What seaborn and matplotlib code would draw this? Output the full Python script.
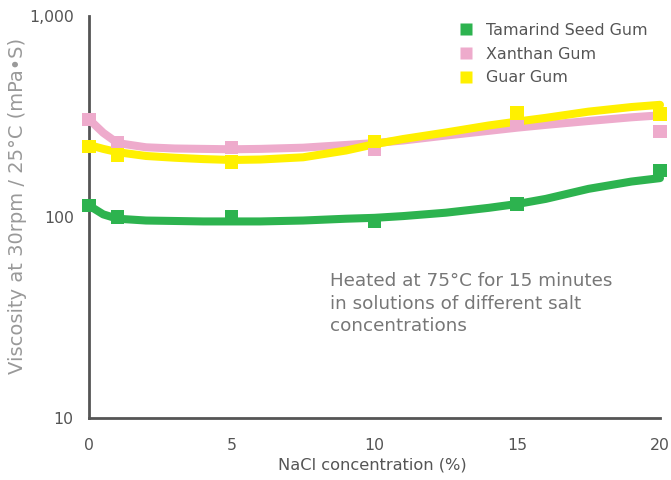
import matplotlib
matplotlib.use("Agg")
import matplotlib.pyplot as plt
import matplotlib.ticker as mticker
from matplotlib.lines import Line2D
import seaborn as sns
import pandas as pd

# measured points
nacl = [0, 1, 5, 10, 15, 20]
tamarind = [114, 100, 100, 95, 116, 170]
xanthan = [306, 233, 222, 218, 295, 266]
guar = [224, 203, 188, 237, 328, 325]

# trend curves
curve_x = [0, 0.5, 1, 2, 3, 4, 5, 6, 7.5, 9, 10, 11, 12.5, 14, 15, 16, 17.5, 19, 20]
tamarind_curve = [114, 103, 98, 96, 95.5, 95, 95, 95, 96, 98, 99, 101, 105, 111, 116, 123, 138, 150, 156]
xanthan_curve = [306, 262, 233, 222, 219, 218, 217, 218, 221, 228, 233, 240, 254, 268, 278, 287, 300, 313, 320]
guar_curve = [228, 218, 210, 201, 197, 194, 192, 193, 198, 214, 230, 244, 263, 285, 298, 311, 334, 352, 361]

series_names = ["Tamarind Seed Gum", "Xanthan Gum", "Guar Gum"]
colors = ["#2db34f", "#eeabcc", "#fff000"]

y_ticks = [10, 100, 1000]
x_ticks = [0, 5, 10, 15, 20]

sns.set_style("white")
plt.rcParams["font.family"] = ["DejaVu Sans"]

fig = plt.figure(figsize=(6.71, 4.8), dpi=100)
ax = fig.add_axes([0.1326, 0.129, 0.851, 0.838])

grey = "#555555"
pts = [tamarind, xanthan, guar]
curves = [tamarind_curve, xanthan_curve, guar_curve]
for name, c, p, cv in zip(series_names, colors, pts, curves):
    dc = pd.DataFrame({"x": curve_x, "y": cv})
    sns.lineplot(data=dc, x="x", y="y", ax=ax, color=c, linewidth=5.8,
                 solid_capstyle="round", solid_joinstyle="round", clip_on=False, zorder=3)
    dp = pd.DataFrame({"x": nacl, "y": p})
    sns.scatterplot(data=dp, x="x", y="y", ax=ax, color=c, marker="s", s=95,
                    edgecolor="none", linewidth=0, clip_on=False, zorder=4)

ax.set_yscale("log")
ax.set_ylim(10, 1000)
ax.set_xlim(0, 20)
ax.yaxis.set_major_locator(mticker.FixedLocator(y_ticks))
ax.yaxis.set_minor_locator(mticker.NullLocator())
ax.yaxis.set_major_formatter(mticker.FuncFormatter(lambda v, p: f"{int(v):,}"))
ax.set_xticks(x_ticks)

for s in ["top", "right"]:
    ax.spines[s].set_visible(False)
for s in ["left", "bottom"]:
    ax.spines[s].set_color(grey)
    ax.spines[s].set_linewidth(2)

ax.tick_params(axis="x", direction="out", length=7.5, width=2, color=grey,
               labelcolor=grey, labelsize=11.3, pad=7)
ax.tick_params(axis="y", direction="out", length=9.5, width=2, color=grey,
               labelcolor=grey, labelsize=11.3, pad=1.5)

ax.set_xlabel("NaCl concentration (%)", color=grey, fontsize=11.7)
ax.xaxis.set_label_coords(0.497, -0.099)
ax.set_ylabel("Viscosity at 30rpm / 25°C (mPa•S)", color="#999999", fontsize=14)
ax.yaxis.set_label_coords(-0.108, 0.527)

handles = [Line2D([0], [0], marker="s", linestyle="none", markersize=8.6,
                  markerfacecolor=c, markeredgecolor="none") for c in colors]
leg = ax.legend(handles, series_names, loc="upper left", bbox_to_anchor=(0.636, 0.998),
                frameon=False, fontsize=11.4, handlelength=1.0, handletextpad=0.72,
                labelspacing=0.55, borderaxespad=0)
for t in leg.get_texts():
    t.set_color(grey)

ax.text(0.422, 0.363, "Heated at 75°C for 15 minutes\nin solutions of different salt\nconcentrations",
        transform=ax.transAxes, color="#777777", fontsize=13.2, linespacing=1.33,
        va="top", ha="left")

fig.savefig("out.png", dpi=100)
